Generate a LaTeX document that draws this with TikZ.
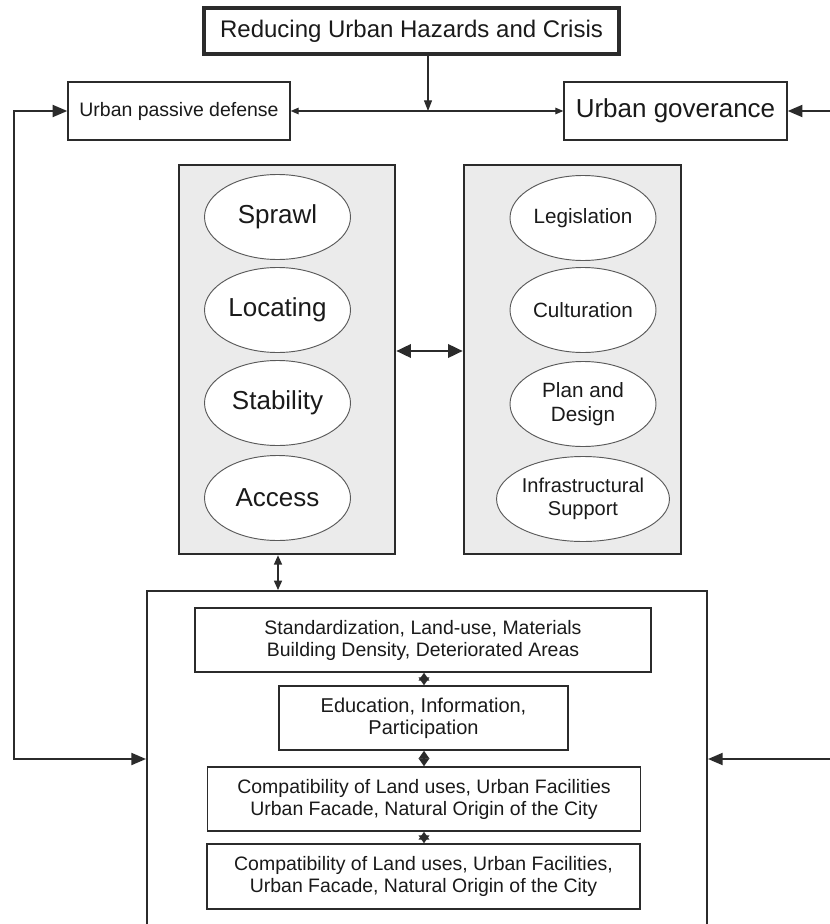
\documentclass[tikz,border=0pt]{standalone}
\usepackage{fontspec}
\setmainfont{Liberation Sans}
\usetikzlibrary{arrows.meta,shapes.geometric,calc}
\definecolor{ln}{HTML}{2B2B2B}
\definecolor{gfill}{HTML}{EBEBEB}
\definecolor{ell}{HTML}{5A5A5A}
\definecolor{txt}{HTML}{1A1A1A}
\begin{document}
\begin{tikzpicture}[x=0.75pt,y=-0.75pt,
  sz/.style 2 args={minimum width=#1*0.75pt, minimum height=#2*0.75pt},
  fs/.style 2 args={font=\fontsize{#1}{#2}\selectfont},
  base/.style={draw=ln, inner sep=0pt, align=center, text=txt},
  titlebox/.style={base, line width=2.3pt, fs={18}{21}},
  topbox/.style={base, line width=1.1pt},
  graybox/.style={draw=ln, fill=gfill, line width=1.9pt},
  oval/.style={ellipse, draw=ell, fill=white, line width=0.7pt, inner sep=0pt, align=center, text=txt, sz={146}{85}},
  bigl/.style={oval, fs={19.5}{22}},
  smallo/.style={oval, fs={15.5}{17.5}},
  bigbox/.style={draw=ln, line width=1.5pt},
  listbox/.style={base, line width=1.1pt, fs={14.6}{16.5}},
  fb/.style={draw=ln, line width=1.5pt, -{Triangle[length=11pt,width=9pt]}},
  thin/.style={draw=ln, line width=0.8pt},
  sm/.style={draw=ln, line width=1.3pt, {Triangle[length=6pt,width=8pt]}-{Triangle[length=6pt,width=8pt]}}
]
\clip (0,0) rectangle (830,924);
\fill[white] (0,0) rectangle (830,924);

% top row
\node[titlebox, sz={415}{46}] (title) at (411.5,31) {Reducing Urban Hazards and Crisis};
\node[topbox, sz={222}{58}, fs={14.6}{17}] (pass) at (179,111) {Urban passive defense};
\node[topbox, sz={223}{58}, fs={19.5}{22}] (gov) at (675.5,111) {Urban goverance};

\coordinate (mid) at (428,111);
\draw[thin, -{Triangle[length=8pt,width=6pt]}] (mid |- title.south) -- (mid);
\draw[thin, {Triangle[length=6pt,width=5pt]}-{Triangle[length=6pt,width=5pt]}] (pass.east) -- (gov.west);

% gray boxes
\node[graybox, sz={216}{389}] (lg) at (287,359.5) {};
\node[graybox, sz={217}{389}] (rg) at (572.5,359.5) {};

\node[bigl] (e1) at (277.5,217) {Sprawl};
\node[bigl] (e2) at (277.5,310) {Locating};
\node[bigl] (e3) at (277.5,403) {Stability};
\node[bigl] (e4) at (277.5,498) {Access};

\node[smallo] (f1) at (583,218) {Legislation};
\node[smallo] (f2) at (583,310) {Culturation};
\node[smallo] (f3) at (583,404) {Plan and\\Design};
\node[smallo, fs={15}{17}] (f4) at (583,499) {Infrastructural\\Support};

\coordinate (ay) at (0,351);
\draw[draw=ln, line width=1.9pt, {Triangle[length=11pt,width=10pt]}-{Triangle[length=11pt,width=10pt]}] (lg.east |- ay) -- (rg.west |- ay);

% big box (open at bottom, extends past the frame)
\node[bigbox, sz={560}{369}] (big) at (427,775.5) {};
\coordinate (vx) at (278,0);
\draw[draw=ln, line width=1.1pt, {Triangle[length=7pt,width=6pt]}-{Triangle[length=7pt,width=6pt]}] (lg.south -| vx) -- (big.north -| vx);

\node[listbox, sz={456}{64}] (s1) at (423,640) {Standardization, Land-use, Materials\\Building Density, Deteriorated Areas};
\node[listbox, sz={289}{64}, fs={15}{16.5}] (s2) at (423.5,718) {Education, Information,\\Participation};
\node[listbox, sz={433}{64}] (s3) at (424,799) {Compatibility of Land uses, Urban Facilities\\Urban Facade, Natural Origin of the City};
\node[listbox, sz={433}{65}] (s4) at (423.5,876.5) {Compatibility of Land uses, Urban Facilities,\\Urban Facade, Natural Origin of the City};

\coordinate (sx) at (424,0);
\draw[sm] (s1.south -| sx) -- (s2.north -| sx);
\draw[sm] (s2.south -| sx) -- (s3.north -| sx);
\draw[sm] (s3.south -| sx) -- (s4.north -| sx);

% feedback loops
\coordinate (lcorner) at (14,759);
\coordinate (ry) at (0,759);
\coordinate (rtop) at (840,111);
\coordinate (rbot) at (840,759);
\draw[fb, {Triangle[length=11pt,width=9pt]}-{Triangle[length=11pt,width=9pt]}] (pass.west) -| (lcorner) -- (big.west |- ry);
\draw[fb] (rtop) -- (gov.east);
\draw[fb] (rbot) -- (big.east |- ry);
\end{tikzpicture}
\end{document}
